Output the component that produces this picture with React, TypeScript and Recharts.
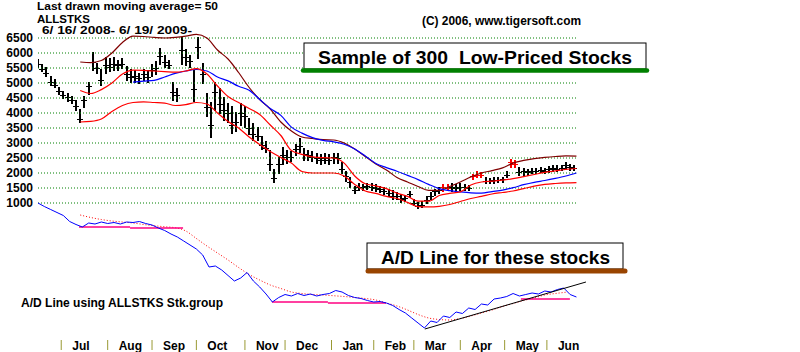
import React from "react";
import { ComposedChart, Bar, Line, XAxis, YAxis, ReferenceLine } from "recharts";

const FONT = "'Liberation Sans', Arial, Helvetica, sans-serif";

// trading-day index 0 = 6/16/2008
const monthDays = [11, 33, 54, 75, 98, 117, 139, 159, 178, 200, 221, 241];
const monthNames = ["Jul", "Aug", "Sep", "Oct", "Nov", "Dec", "Jan", "Feb", "Mar", "Apr", "May", "Jun"];
const priceTicks = [1000, 1500, 2000, 2500, 3000, 3500, 4000, 4500, 5000, 5500, 6000, 6500];

// daily bars (every 2nd trading day)
const barDays = Array.from({ length: 128 }, (_, i) => i * 2);
const barHigh = [
  5770, 5600, 5500, 5200, 5100, 4850, 4700, 4650, 4550, 4400,
  4100, 4550, 5000, 6000, 5650, 5450, 5850, 5800, 5850, 5750,
  5800, 5550, 5450, 5400, 5300, 5450, 5400, 5600, 5700, 6150,
  5900, 5750, 5000, 4800, 6500, 6100, 5900, 5400, 6500, 5650,
  4650, 4330, 5000, 4800, 4500, 4300, 4200, 4000, 4300, 4200,
  3800, 3650, 3500, 3200, 3050, 2750, 2100, 2500, 2850, 2750,
  2700, 2950, 3150, 2800, 2750, 2700, 2650, 2600, 2650, 2600,
  2650, 2650, 2350, 2050, 1850, 1550, 1650, 1600, 1650, 1650,
  1600, 1550, 1500, 1450, 1400, 1350, 1270, 1250, 1370, 1100,
  1000, 1050, 1200, 1330, 1450, 1500, 1600, 1600, 1650, 1600,
  1620, 1600, 1580, 1950, 2030, 2000, 1830, 1800, 1820, 1830,
  1850, 2030, 2430, 2400, 2170, 2150, 2100, 2150, 2150, 2170,
  2150, 2200, 2250, 2230, 2250, 2330, 2270, 2250,
];
const barLow = [
  5550, 5400, 5250, 4950, 4880, 4650, 4500, 4400, 4330, 4100,
  3700, 4200, 4650, 5450, 5350, 4950, 5350, 5400, 5450, 5450,
  5500, 5100, 5050, 5050, 5000, 5100, 5050, 5250, 5300, 5650,
  5550, 5500, 4450, 4400, 5650, 5600, 5550, 4400, 5850, 5000,
  3900, 3200, 4100, 4000, 3770, 3700, 3350, 3400, 3600, 3550,
  3300, 3100, 3100, 2800, 2700, 2100, 1700, 2000, 2300, 2350,
  2400, 2600, 2700, 2450, 2450, 2400, 2350, 2300, 2350, 2300,
  2350, 2350, 2000, 1750, 1550, 1350, 1450, 1450, 1480, 1450,
  1400, 1380, 1300, 1250, 1150, 1150, 1050, 1080, 1200, 950,
  850, 870, 1000, 1150, 1270, 1350, 1400, 1420, 1400, 1380,
  1430, 1450, 1430, 1800, 1870, 1870, 1670, 1680, 1680, 1700,
  1700, 1870, 2200, 2200, 1950, 1930, 1950, 2000, 2000, 2020,
  2000, 2050, 2080, 2060, 2100, 2150, 2100, 2100,
];
const barClose = [
  5650, 5480, 5330, 5050, 4950, 4720, 4600, 4520, 4420, 4250,
  3800, 4450, 4900, 5700, 5500, 5100, 5600, 5550, 5650, 5600,
  5650, 5300, 5200, 5250, 5150, 5300, 5200, 5450, 5500, 5900,
  5700, 5600, 4700, 4600, 6100, 5850, 5750, 4800, 6200, 5300,
  4200, 3600, 4700, 4300, 4100, 4000, 3600, 3700, 4000, 3900,
  3500, 3300, 3250, 2950, 2850, 2300, 1850, 2300, 2600, 2550,
  2550, 2800, 2900, 2650, 2600, 2550, 2500, 2450, 2500, 2450,
  2550, 2500, 2150, 1900, 1700, 1450, 1550, 1550, 1570, 1550,
  1500, 1450, 1400, 1350, 1250, 1250, 1150, 1180, 1300, 1000,
  900, 950, 1100, 1250, 1400, 1450, 1550, 1500, 1550, 1500,
  1550, 1520, 1500, 1900, 1950, 1950, 1750, 1750, 1760, 1780,
  1800, 1950, 2350, 2300, 2050, 2050, 2030, 2080, 2080, 2100,
  2080, 2130, 2150, 2150, 2180, 2250, 2200, 2180,
];
const redBarDays = [192, 194, 206, 208, 210, 224, 226];

// moving averages / bands, read every 5 trading days
const maDays = Array.from({ length: 52 }, (_, i) => i * 5);
const ma50 = [
  null, null, null, null, null, null, null, null, null,
  5030, 5060, 5090, 5200, 5320, 5400, 5450, 5400, 5200, 5070, 4890, 4760, 4450, 4150, 3920, 3530,
  3330, 3180, 3090, 3040, 2960, 2800, 2570, 2320, 2180, 2060, 1920, 1780, 1620, 1480, 1410, 1370,
  1340, 1330, 1380, 1430, 1510, 1610, 1690, 1750, 1820, 1900, 2000,
];
const maMid = [
  null, null, null, null,
  4750, 4650, 4780, 5000, 5300, 5430, 5420, 5400, 5380, 5360, 5400, 5480, 5300, 4900, 4550, 4350,
  4150, 3950, 3600, 3250, 2750, 2620, 2540, 2510, 2500, 2330, 1900, 1640, 1570, 1480, 1330, 1220,
  1060, 1060, 1250, 1320, 1370, 1600, 1700, 1730, 1760, 1810, 1880, 1950, 2020, 2070, 2120, 2150,
];
const maLow = [
  null, null, null, null,
  3700, 3720, 3800, 4050, 4250, 4350, 4370, 4350, 4330, 4250, 4280, 4350, 4300, 4000, 3720, 3500,
  3200, 2950, 2720, 2520, 2330, 2050, 2000, 2000, 2000, 1900, 1620, 1400, 1320, 1220, 1150, 1020,
  880, 870, 890, 950, 1050, 1150, 1220, 1300, 1350, 1400, 1480, 1560, 1620, 1650, 1670, 1680,
];
const maUpper = [
  null, null, null, null,
  5700, 5680, 5750, 6000, 6350, 6560, 6550, 6520, 6500, 6520, 6560, 6620, 6500, 6100, 5800, 5350,
  4850, 4450, 4130, 3700, 3400, 3200, 3150, 3110, 3100, 3000, 2800, 2550, 2300, 2100, 1850, 1700,
  1550, 1420, 1420, 1550, 1700, 1870, 2000, 2080, 2170, 2330, 2420, 2480, 2520, 2550, 2570, 2560,
];

// A/D line, read every 3 trading days
const adDays = Array.from({ length: 86 }, (_, i) => i * 3);
const adLine = [
  0, -700, -1300, -1900, -2500, -3700, -4300, -4800, -4000, -4200,
  -3800, -4100, -3900, -4200, -3800, -3900, -3700, -4100, -4400, -5000,
  -5500, -6200, -6800, -7600, -8400, -9200, -10400, -12800, -12600, -13400,
  -14500, -15600, -15000, -13900, -15600, -16800, -18200, -19800, -18900, -18300,
  -18600, -18100, -18500, -18200, -18600, -18300, -18100, -17500, -17800, -18500,
  -18900, -19100, -19500, -19800, -19700, -20000, -20500, -21300, -22000, -23000,
  -24000, -25000, -23600, -23900, -22600, -22900, -21800, -22100, -21000, -21300,
  -20200, -20400, -19200, -19000, -18700, -18100, -18600, -18300, -18000, -18200,
  -17600, -17800, -17300, -17000, -18300, -18800,
];
const adMa = [
  null, null, null, null,
  -2400, -2900, -3300, -3600, -3800, -4000, -4300, -4550, -4750, -4950, -5600, -7100, -8600, -10000,
  -11400, -12900, -14300, -15400, -16400, -17100, -17800, -18100, -18300, -18400, -18550, -18700,
  -18900, -19100, -19400, -20000, -20600, -21400, -22300, -23000, -23300, -23400, -23100, -22600,
  -22000, -21400, -20700, -20100, -19500, -19000, -18400, -18100, -17850, null,
];

// support lines and up-trendline on the A/D line: [day, value]
const supportLines = [
  [[19.4, -4800], [43.6, -4800]],
  [[43.6, -5000], [68.7, -5000]],
  [[110.8, -19800], [137.3, -19800]],
  [[137.3, -20000], [164.8, -20000]],
  [[228.7, -19200], [251.9, -19200]],
];
const trendLine = [[183.2, -25200], [259.5, -15800]];

const rowMap = new Map<number, any>();
const row = (d: number) => {
  if (!rowMap.has(d)) rowMap.set(d, { day: d });
  return rowMap.get(d);
};
barDays.forEach((d, i) => {
  const r = row(d);
  r.range = [barLow[i], barHigh[i]];
  r.high = barHigh[i];
  r.low = barLow[i];
  r.close = barClose[i];
  r.red = redBarDays.includes(d);
});
maDays.forEach((d, i) => {
  const r = row(d);
  r.ma50 = ma50[i];
  r.maMid = maMid[i];
  r.maLow = maLow[i];
  r.maUpper = maUpper[i];
  r.adMa = adMa[i];
});
adDays.forEach((d, i) => {
  row(d).ad = adLine[i];
});
supportLines.forEach((seg, k) => {
  seg.forEach(([d, v]) => {
    row(d)["sup" + k] = v;
  });
});
trendLine.forEach(([d, v]) => {
  row(d).trend = v;
});
const data = [...rowMap.values()].sort((a, b) => a.day - b.day);

function PriceBar(props: any) {
  const { x, y, width, height, payload } = props;
  if (!payload || payload.high == null || isNaN(y)) return <g />;
  const cx = Math.round(x + width / 2);
  const top = Math.min(y, y + height);
  const bottom = Math.max(y, y + height);
  const cy = Math.round(top + ((bottom - top) * (payload.high - payload.close)) / (payload.high - payload.low)) + 0.5;
  const c = payload.red ? "#ff0000" : "#000000";
  return (
    <g shapeRendering="crispEdges">
      <line x1={cx} x2={cx} y1={top - 1} y2={bottom + 1} stroke={c} strokeWidth={2} />
      <line x1={cx - 3} x2={cx + 3} y1={cy} y2={cy} stroke={c} strokeWidth={1} />
    </g>
  );
}

function MonthTick(props: any) {
  const { x, payload } = props;
  const i = monthDays.indexOf(payload.value);
  return (
    <g>
      <line x1={x} x2={x} y1={340} y2={350} stroke="#999933" strokeWidth={1} />
      <text x={x + 11} y={350} fontFamily={FONT} fontWeight="bold" fontSize={12} fill="#000">
        {monthNames[i]}
      </text>
    </g>
  );
}

function PriceTick(props: any) {
  const { y, payload } = props;
  return (
    <text x={33} y={y} dy="0.36em" textAnchor="end" fontFamily={FONT} fontWeight="bold" fontSize={12} fill="#000">
      {payload.value}
    </text>
  );
}

const txt = { fontFamily: FONT, fontWeight: "bold" as const, fill: "#000" };

export default function App() {
  return (
    <div style={{ position: "absolute", left: 0, top: 0, width: 800, height: 352, background: "#fff" }}>
      <ComposedChart width={800} height={352} data={data} margin={{ top: 32, right: 213, bottom: 0, left: 0 }}>
        <XAxis
          xAxisId={0}
          type="number"
          dataKey="day"
          domain={[0, 260]}
          ticks={monthDays}
          interval={0}
          height={14}
          axisLine={false}
          tickLine={false}
          tick={(p: any) => <MonthTick {...p} />}
          allowDataOverflow
        />
        <YAxis
          yAxisId="price"
          domain={[-3500, 6700]}
          ticks={priceTicks}
          interval={0}
          width={38}
          axisLine={false}
          tickLine={false}
          allowDataOverflow
          tick={(p: any) => <PriceTick {...p} />}
        />
        <YAxis yAxisId="ad" hide domain={[-27000, 34200]} allowDataOverflow />
        {priceTicks.map((t) => (
          <ReferenceLine
            key={t}
            yAxisId="price"
            segment={[{ x: 0, y: t }, { x: 255, y: t }]}
            stroke="#008000"
            strokeDasharray="1 2"
          />
        ))}
        <Line yAxisId="price" dataKey="maUpper" type="monotone" stroke="#800000" strokeWidth={1.2} dot={false} connectNulls isAnimationActive={false} />
        <Line yAxisId="price" dataKey="ma50" type="monotone" stroke="#0000ff" strokeWidth={1.2} dot={false} connectNulls isAnimationActive={false} />
        <Line yAxisId="price" dataKey="maMid" type="monotone" stroke="#ff0000" strokeWidth={1.2} dot={false} connectNulls isAnimationActive={false} />
        <Line yAxisId="price" dataKey="maLow" type="monotone" stroke="#ff0000" strokeWidth={1.2} dot={false} connectNulls isAnimationActive={false} />
        <Bar yAxisId="price" dataKey="range" barSize={1} shape={PriceBar} isAnimationActive={false} />
        <Line yAxisId="ad" dataKey="adMa" type="monotone" stroke="#ff0000" strokeWidth={1} strokeDasharray="1 2" dot={false} connectNulls isAnimationActive={false} />
        {supportLines.map((_, k) => (
          <Line key={k} yAxisId="ad" dataKey={"sup" + k} stroke="#ff0080" strokeWidth={1.5} dot={false} connectNulls isAnimationActive={false} />
        ))}
        <Line yAxisId="ad" dataKey="ad" type="linear" stroke="#0000ff" strokeWidth={1} dot={false} connectNulls isAnimationActive={false} />
        <Line yAxisId="ad" dataKey="trend" type="linear" stroke="#000000" strokeWidth={1} dot={false} connectNulls isAnimationActive={false} />
      </ComposedChart>
      <svg width={800} height={352} style={{ position: "absolute", left: 0, top: 0, pointerEvents: "none" }}>
        <text x={37} y={10} fontSize={11} textLength={181} lengthAdjust="spacingAndGlyphs" {...txt}>
          Last drawn moving average= 50
        </text>
        <text x={37} y={22.5} fontSize={11} textLength={53} lengthAdjust="spacingAndGlyphs" {...txt}>
          ALLSTKS
        </text>
        <text x={42} y={34} fontSize={11} textLength={150} lengthAdjust="spacingAndGlyphs" {...txt}>
          6/ 16/ 2008- 6/ 19/ 2009-
        </text>
        <text x={422} y={25} fontSize={12} textLength={159} lengthAdjust="spacingAndGlyphs" {...txt}>
          (C) 2006, www.tigersoft.com
        </text>
        <text x={21} y={307} fontSize={12} textLength={202} lengthAdjust="spacingAndGlyphs" {...txt}>
          A/D Line using ALLSTKS Stk.group
        </text>

        <rect x={304} y={43} width={342} height={26} fill="#fff" stroke="#000" strokeWidth={1} />
        <line x1={303} x2={647} y1={70.5} y2={70.5} stroke="#008000" strokeWidth={4.5} strokeLinecap="round" />
        <text x={318} y={63.5} fontSize={19} textLength={314} lengthAdjust="spacingAndGlyphs" style={{ whiteSpace: "pre" }} {...txt}>
          {"Sample of 300  Low-Priced Stocks"}
        </text>

        <rect x={367} y={243} width={256} height={26} fill="#fff" stroke="#000" strokeWidth={1} />
        <line x1={368} x2={625} y1={271} y2={271} stroke="#994400" strokeWidth={5} strokeLinecap="round" />
        <text x={381} y={263.5} fontSize={19} textLength={229} lengthAdjust="spacingAndGlyphs" {...txt}>
          A/D Line for these stocks
        </text>
      </svg>
    </div>
  );
}
